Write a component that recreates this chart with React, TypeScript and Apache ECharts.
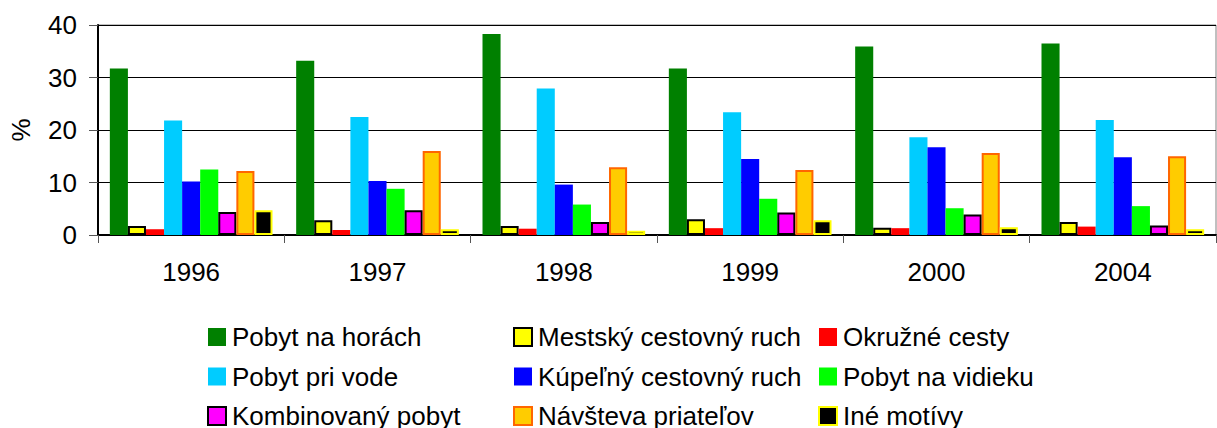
import React, { useEffect, useRef } from "react";
import * as echarts from "echarts";

const years = ["1996", "1997", "1998", "1999", "2000", "2004"];
const yTicks = [0, 10, 20, 30, 40];

const pobytNaHorach = [31.7, 33.2, 38.3, 31.7, 35.9, 36.5];
const mestskyCR = [1.7, 2.8, 1.7, 3.0, 1.4, 2.5];
const okruzneCesty = [1.1, 0.95, 1.2, 1.3, 1.3, 1.6];
const pobytPriVode = [21.8, 22.5, 27.9, 23.4, 18.6, 21.9];
const kupelnyCR = [10.2, 10.3, 9.6, 14.5, 16.7, 14.8];
const pobytNaVidieku = [12.5, 8.8, 5.8, 6.9, 5.1, 5.5];
const kombinovanyPobyt = [4.4, 4.7, 2.5, 4.3, 3.9, 1.8];
const navstevaPriatelov = [12.2, 16.0, 12.9, 12.4, 15.6, 15.0];
const ineMotivy = [4.7, 1.1, 0.8, 2.8, 1.5, 1.1];

const seriesDefs = [
  { name: "Pobyt na horách", data: pobytNaHorach, color: "#008000", border: null },
  { name: "Mestský cestovný ruch", data: mestskyCR, color: "#FFFF00", border: "#000000" },
  { name: "Okružné cesty", data: okruzneCesty, color: "#FF0000", border: null },
  { name: "Pobyt pri vode", data: pobytPriVode, color: "#00CCFF", border: null },
  { name: "Kúpeľný cestovný ruch", data: kupelnyCR, color: "#0000FF", border: null },
  { name: "Pobyt na vidieku", data: pobytNaVidieku, color: "#00FF00", border: null },
  { name: "Kombinovaný pobyt", data: kombinovanyPobyt, color: "#FF00FF", border: "#000000" },
  { name: "Návšteva priateľov", data: navstevaPriatelov, color: "#FFCC00", border: "#FF6600" },
  { name: "Iné motívy", data: ineMotivy, color: "#000000", border: "#FFFF00" },
];

const FONT = "'Liberation Sans', Arial, sans-serif";
const FS = 26;

export default function App() {
  const ref = useRef<HTMLDivElement>(null);
  useEffect(() => {
    if (!ref.current) return;
    const chart = echarts.init(ref.current, null, { renderer: "svg" });
    const legendCol = (names: string[], left: number) => ({
      orient: "vertical",
      left,
      top: 324,
      width: 300,
      height: 140,
      padding: 0,
      itemWidth: 18,
      itemHeight: 18,
      itemGap: 13.5,
      icon: "rect",
      textStyle: { fontFamily: FONT, fontSize: FS, color: "#000", lineHeight: 24, padding: [0, 0, 0, 1] },
      data: names,
      selectedMode: false,
    });
    chart.setOption({
      animation: false,
      backgroundColor: "#fff",
      textStyle: { fontFamily: FONT },
      grid: {
        left: 98,
        top: 25,
        right: 1,
        bottom: 193,
        containLabel: false,
        show: true,
        borderColor: "#808080",
        borderWidth: 1,
        backgroundColor: "#fff",
      },
      legend: [
        legendCol([seriesDefs[0].name, seriesDefs[3].name, seriesDefs[6].name], 207),
        legendCol([seriesDefs[1].name, seriesDefs[4].name, seriesDefs[7].name], 513),
        legendCol([seriesDefs[2].name, seriesDefs[5].name, seriesDefs[8].name], 818),
      ],
      xAxis: {
        type: "category",
        data: years,
        axisLine: { lineStyle: { color: "#000", width: 2 } },
        axisTick: { show: true, length: 8, lineStyle: { color: "#555", width: 1 } },
        axisLabel: { fontFamily: FONT, fontSize: FS, color: "#000", margin: 24 },
      },
      yAxis: {
        type: "value",
        min: yTicks[0],
        max: yTicks[yTicks.length - 1],
        interval: 10,
        name: "%",
        nameLocation: "middle",
        nameRotate: 90,
        nameGap: 64,
        nameTextStyle: { fontFamily: FONT, fontSize: FS, color: "#000" },
        axisLine: { show: true, lineStyle: { color: "#000", width: 2 } },
        axisTick: { show: true, length: 9, lineStyle: { color: "#555", width: 1 } },
        axisLabel: { fontFamily: FONT, fontSize: FS, color: "#000", margin: 21 },
        splitLine: { show: true, lineStyle: { color: "#000", width: 1 } },
      },
      series: seriesDefs.map((s) => ({
        name: s.name,
        type: "bar",
        data: s.data,
        barGap: "0%",
        barCategoryGap: "12.7%",
        itemStyle: {
          color: s.color,
          borderColor: s.border || s.color,
          borderWidth: s.border ? 2 : 0,
        },
      })),
    });
    return () => chart.dispose();
  }, []);
  return (
    <div
      ref={ref}
      style={{ position: "fixed", left: 0, top: 0, width: 1217, height: 428 }}
    />
  );
}
